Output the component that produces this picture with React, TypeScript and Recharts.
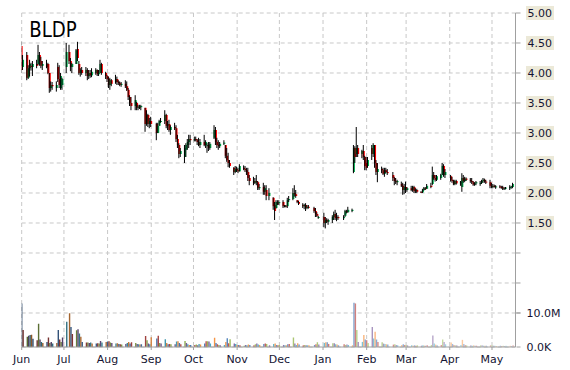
import { ComposedChart, Bar, Cell, XAxis, YAxis, CartesianGrid } from 'recharts';

const monthLabels = ['Jun', 'Jul', 'Aug', 'Sep', 'Oct', 'Nov', 'Dec', 'Jan', 'Feb', 'Mar', 'Apr', 'May'];
const holidays = ['2017-07-04', '2017-09-04', '2017-11-23', '2017-12-25', '2018-01-01', '2018-01-15', '2018-02-19', '2018-03-30'];

// daily [open, high, low, close] per month
const jun = [
  [4.45, 4.52, 4.0, 4.05], [4.1, 4.3, 4.05, 4.22],
  [4.3, 4.35, 3.88, 3.92], [3.92, 4.13, 3.9, 4.08], [4.08, 4.22, 3.94, 4.15], [4.12, 4.17, 4.04, 4.1], [4.1, 4.2, 3.95, 4.15],
  [4.15, 4.22, 4.08, 4.12], [4.15, 4.47, 4.13, 4.3], [4.3, 4.35, 4.12, 4.2], [4.2, 4.27, 4.08, 4.12], [4.12, 4.2, 4.05, 4.15],
  [4.15, 4.22, 4.08, 4.1], [4.15, 4.17, 3.98, 4.0], [4.0, 4.0, 3.67, 3.75], [3.75, 3.86, 3.69, 3.8], [3.8, 3.85, 3.72, 3.78],
  [3.75, 3.86, 3.69, 3.8], [4.1, 4.17, 3.85, 3.9], [3.9, 4.13, 3.75, 3.8], [3.75, 4.0, 3.72, 3.95], [3.8, 3.92, 3.72, 3.9],
];
const jul = [
  [4.1, 4.5, 4.0, 4.35],
  [4.35, 4.47, 4.15, 4.2], [4.2, 4.25, 4.03, 4.1], [4.1, 4.17, 4.0, 4.15],
  [4.15, 4.4, 4.15, 4.38], [4.4, 4.52, 4.2, 4.25], [4.15, 4.2, 3.97, 4.0], [4.0, 4.08, 3.94, 4.05], [4.05, 4.1, 3.97, 4.0],
  [4.0, 4.1, 3.95, 4.05], [4.05, 4.08, 3.88, 3.95], [3.95, 4.05, 3.9, 4.0], [4.0, 4.05, 3.92, 3.96], [3.96, 4.08, 3.93, 4.02],
  [4.0, 4.08, 3.97, 4.05], [4.05, 4.06, 3.95, 3.98], [3.98, 4.05, 3.95, 4.0], [4.0, 4.22, 4.0, 4.15], [4.15, 4.17, 3.97, 4.0],
  [4.0, 4.02, 3.9, 3.95],
];
const aug = [
  [3.95, 3.97, 3.85, 3.9], [3.9, 3.94, 3.75, 3.8], [3.8, 3.92, 3.72, 3.88], [3.88, 3.9, 3.78, 3.82],
  [3.85, 3.97, 3.82, 3.9], [3.9, 3.94, 3.8, 3.85], [3.85, 3.88, 3.8, 3.83], [3.83, 3.86, 3.78, 3.8], [3.8, 3.85, 3.77, 3.82],
  [3.82, 3.88, 3.75, 3.78], [3.78, 3.86, 3.7, 3.72], [3.72, 3.75, 3.55, 3.6], [3.6, 3.63, 3.45, 3.5], [3.5, 3.6, 3.38, 3.45],
  [3.45, 3.63, 3.38, 3.55], [3.5, 3.52, 3.38, 3.42], [3.42, 3.47, 3.38, 3.44], [3.44, 3.47, 3.4, 3.43], [3.43, 3.47, 3.38, 3.45],
  [3.42, 3.42, 3.02, 3.15], [3.15, 3.38, 3.12, 3.3], [3.3, 3.32, 3.1, 3.15], [3.15, 3.25, 3.08, 3.2],
];
const sep = [
  [3.2, 3.27, 3.1, 3.15],
  [3.15, 3.17, 2.88, 3.0], [3.0, 3.17, 3.0, 3.12], [3.12, 3.22, 3.12, 3.2], [3.2, 3.25, 3.17, 3.2],
  [3.2, 3.38, 3.15, 3.3], [3.3, 3.32, 3.08, 3.12], [3.12, 3.2, 3.05, 3.15], [3.15, 3.22, 3.02, 3.05], [3.05, 3.13, 2.97, 3.1],
  [3.1, 3.17, 3.05, 3.08], [3.08, 3.13, 2.85, 2.9], [2.9, 2.97, 2.75, 2.8], [2.8, 2.83, 2.58, 2.65], [2.65, 2.75, 2.6, 2.7],
  [2.6, 2.8, 2.5, 2.75], [2.72, 2.83, 2.6, 2.8], [2.8, 2.9, 2.72, 2.85], [2.85, 2.97, 2.75, 2.9], [2.9, 2.97, 2.8, 2.88],
];
const oct = [
  [2.88, 2.94, 2.86, 2.9], [2.9, 2.94, 2.86, 2.88], [2.88, 2.9, 2.8, 2.85], [2.85, 2.92, 2.78, 2.8], [2.8, 2.9, 2.75, 2.85],
  [2.85, 2.97, 2.78, 2.8], [2.8, 2.88, 2.75, 2.85], [2.78, 2.83, 2.67, 2.8], [2.8, 2.85, 2.7, 2.75], [2.75, 2.85, 2.72, 2.82],
  [2.92, 3.13, 2.9, 3.05], [3.05, 3.1, 2.8, 2.85], [2.85, 2.92, 2.75, 2.8], [2.8, 2.88, 2.72, 2.78], [2.78, 2.85, 2.75, 2.82],
  [2.82, 2.88, 2.8, 2.84], [2.8, 2.8, 2.58, 2.62], [2.62, 2.75, 2.52, 2.55], [2.55, 2.67, 2.43, 2.5], [2.5, 2.55, 2.42, 2.45],
  [2.42, 2.43, 2.3, 2.35], [2.35, 2.45, 2.33, 2.4],
];
const nov = [
  [2.4, 2.44, 2.35, 2.38], [2.38, 2.42, 2.33, 2.36], [2.36, 2.48, 2.36, 2.45],
  [2.42, 2.46, 2.38, 2.4], [2.4, 2.45, 2.35, 2.38], [2.38, 2.42, 2.3, 2.35], [2.35, 2.42, 2.2, 2.25], [2.25, 2.3, 2.13, 2.2],
  [2.2, 2.27, 2.13, 2.17], [2.17, 2.25, 2.15, 2.2], [2.2, 2.3, 2.13, 2.18], [2.18, 2.2, 2.05, 2.08], [2.08, 2.15, 2.05, 2.1],
  [2.1, 2.17, 1.97, 2.02], [2.02, 2.13, 1.97, 2.08], [2.05, 2.13, 1.88, 1.95], [1.95, 2.08, 1.88, 2.0],
  [1.92, 1.93, 1.72, 1.78], [1.8, 1.85, 1.55, 1.7], [1.75, 1.88, 1.74, 1.85], [1.84, 1.88, 1.8, 1.83],
];
const dec = [
  [1.83, 1.88, 1.8, 1.85],
  [1.85, 1.88, 1.75, 1.78], [1.78, 1.8, 1.76, 1.79], [1.79, 1.8, 1.76, 1.78], [1.78, 1.92, 1.75, 1.88], [1.88, 1.95, 1.85, 1.9],
  [1.9, 2.08, 1.88, 2.0], [2.0, 2.13, 1.94, 1.98], [1.98, 2.05, 1.92, 1.95], [1.88, 1.88, 1.83, 1.85], [1.85, 1.87, 1.8, 1.82],
  [1.8, 1.83, 1.75, 1.78], [1.78, 1.82, 1.73, 1.8], [1.8, 1.83, 1.7, 1.75], [1.75, 1.8, 1.73, 1.77], [1.77, 1.8, 1.74, 1.76],
  [1.75, 1.77, 1.67, 1.7], [1.7, 1.75, 1.6, 1.65], [1.65, 1.68, 1.6, 1.62], [1.6, 1.62, 1.57, 1.6],
];
const jan = [
  [1.6, 1.67, 1.43, 1.5], [1.5, 1.6, 1.41, 1.55], [1.55, 1.58, 1.5, 1.52], [1.52, 1.57, 1.47, 1.55],
  [1.55, 1.63, 1.5, 1.6], [1.6, 1.69, 1.55, 1.65], [1.65, 1.72, 1.55, 1.58], [1.58, 1.67, 1.53, 1.6], [1.6, 1.63, 1.55, 1.58],
  [1.58, 1.63, 1.55, 1.6], [1.62, 1.72, 1.6, 1.7], [1.7, 1.72, 1.66, 1.68], [1.68, 1.77, 1.67, 1.72],
  [1.7, 1.74, 1.68, 1.72], [2.35, 2.8, 2.33, 2.75], [2.75, 2.78, 2.5, 2.6], [2.65, 3.1, 2.6, 2.75], [2.75, 2.8, 2.6, 2.65],
  [2.65, 2.72, 2.58, 2.7], [2.7, 2.8, 2.55, 2.6], [2.6, 2.62, 2.38, 2.45],
];
const feb = [
  [2.5, 2.6, 2.38, 2.42], [2.45, 2.6, 2.42, 2.55],
  [2.75, 2.8, 2.55, 2.65], [2.65, 2.83, 2.6, 2.8], [2.8, 2.8, 2.42, 2.5], [2.5, 2.55, 2.3, 2.35], [2.35, 2.5, 2.18, 2.4],
  [2.4, 2.44, 2.33, 2.38], [2.38, 2.42, 2.3, 2.32], [2.32, 2.42, 2.27, 2.38], [2.38, 2.42, 2.33, 2.35], [2.35, 2.4, 2.3, 2.33],
  [2.3, 2.35, 2.2, 2.25], [2.25, 2.27, 2.13, 2.2], [2.2, 2.25, 2.15, 2.18], [2.18, 2.22, 2.13, 2.2],
  [2.15, 2.19, 2.1, 2.12], [2.12, 2.17, 1.97, 2.05], [2.05, 2.15, 1.98, 2.1],
];
const mar = [
  [2.1, 2.19, 2.0, 2.05], [2.05, 2.1, 2.02, 2.08],
  [2.08, 2.12, 2.03, 2.05], [2.05, 2.12, 2.02, 2.1], [2.1, 2.12, 2.0, 2.03], [2.03, 2.08, 2.0, 2.05], [2.05, 2.07, 2.0, 2.02],
  [2.02, 2.03, 2.0, 2.01], [2.01, 2.07, 2.0, 2.05], [2.05, 2.1, 2.04, 2.08], [2.08, 2.1, 2.05, 2.07], [2.07, 2.15, 2.07, 2.12],
  [2.12, 2.17, 2.08, 2.1], [2.15, 2.44, 2.13, 2.3], [2.3, 2.35, 2.22, 2.25], [2.25, 2.3, 2.19, 2.22], [2.22, 2.3, 2.2, 2.28],
  [2.25, 2.32, 2.22, 2.3], [2.3, 2.5, 2.3, 2.45], [2.45, 2.48, 2.27, 2.3], [2.3, 2.4, 2.25, 2.35],
];
const apr = [
  [2.28, 2.3, 2.19, 2.22], [2.22, 2.27, 2.17, 2.2], [2.2, 2.22, 2.13, 2.15], [2.15, 2.22, 2.13, 2.2], [2.2, 2.22, 2.14, 2.16],
  [2.16, 2.2, 2.12, 2.18], [2.1, 2.33, 2.02, 2.25], [2.25, 2.3, 2.17, 2.2], [2.2, 2.27, 2.18, 2.24], [2.24, 2.26, 2.2, 2.22],
  [2.22, 2.25, 2.17, 2.2], [2.2, 2.25, 2.15, 2.18], [2.18, 2.2, 2.12, 2.14], [2.14, 2.18, 2.12, 2.16], [2.16, 2.2, 2.13, 2.18],
  [2.15, 2.2, 2.12, 2.17], [2.17, 2.22, 2.15, 2.2], [2.2, 2.25, 2.17, 2.22], [2.22, 2.24, 2.17, 2.19], [2.19, 2.22, 2.15, 2.18],
  [2.18, 2.22, 2.08, 2.12],
];
const may = [
  [2.12, 2.17, 2.08, 2.1], [2.1, 2.15, 2.08, 2.12], [2.12, 2.14, 2.09, 2.1], [2.1, 2.13, 2.07, 2.11],
  [2.11, 2.13, 2.08, 2.1], [2.1, 2.12, 2.07, 2.09], [2.09, 2.12, 2.05, 2.07], [2.07, 2.1, 2.05, 2.08], [2.08, 2.1, 2.06, 2.09],
  [2.08, 2.13, 2.05, 2.1], [2.1, 2.12, 2.07, 2.11], [2.1, 2.17, 2.08, 2.15],
];

// daily volume, millions
const vJun = [12.8, 5.0, 3.0, 3.3, 3.5, 3.6, 2.4, 2.0, 6.8, 2.2, 1.5, 1.2, 1.5, 2.8, 1.2, 1.5, 1.0, 1.2, 5.0, 2.2, 1.5, 2.8];
const vJul = [7.4, 9.9, 5.9, 3.8, 4.9, 5.2, 4.0, 3.0, 1.5, 1.3, 1.3, 1.2, 1.3, 1.0, 1.0, 1.1, 1.0, 1.8, 1.3, 1.5];
const vAug = [1.6, 1.7, 1.3, 1.2, 1.0, 1.1, 0.9, 0.8, 0.7, 0.9, 1.2, 1.5, 1.0, 1.4, 1.2, 0.9, 0.8, 0.7, 0.8, 3.2, 2.0, 1.0, 0.8];
const vSep = [2.9, 2.5, 3.3, 1.2, 1.0, 2.3, 1.2, 0.8, 0.9, 0.8, 0.8, 1.6, 1.7, 1.2, 0.8, 1.8, 1.2, 0.8, 0.6, 0.6];
const vOct = [0.6, 0.7, 0.5, 0.9, 0.7, 1.0, 1.7, 1.7, 1.6, 1.0, 2.7, 1.2, 0.8, 0.6, 0.5, 0.6, 1.5, 2.6, 1.1, 2.3, 1.0, 0.9];
const vNov = [0.6, 0.6, 0.5, 0.4, 0.6, 0.5, 0.7, 0.6, 0.5, 0.8, 1.0, 0.7, 0.6, 0.9, 1.0, 0.9, 0.5, 0.9, 1.0, 0.6, 0.5];
const vDec = [0.6, 0.6, 0.5, 0.5, 0.8, 0.9, 2.8, 1.0, 0.6, 1.1, 0.7, 0.5, 0.6, 0.5, 0.5, 0.5, 0.6, 0.8, 1.4, 0.7];
const vJan = [1.2, 1.4, 1.4, 0.9, 1.1, 1.1, 0.8, 0.7, 0.5, 0.8, 0.6, 0.7, 0.6, 0.5, 13.0, 12.8, 5.0, 1.5, 1.5, 3.5, 2.2];
const vFeb = [2.0, 1.2, 5.9, 2.5, 4.5, 2.2, 1.5, 1.4, 1.0, 0.9, 0.8, 0.7, 0.7, 0.8, 0.6, 0.5, 0.6, 0.8, 0.6];
const vMar = [0.6, 0.5, 0.5, 0.4, 0.5, 0.4, 0.5, 0.4, 0.5, 0.4, 0.4, 0.5, 0.6, 3.4, 1.0, 0.7, 0.5, 0.6, 2.2, 1.5, 0.8];
const vApr = [1.3, 0.9, 0.6, 0.5, 0.5, 0.6, 2.1, 0.9, 0.6, 0.5, 0.5, 0.4, 0.5, 0.4, 0.4, 0.5, 0.5, 0.4, 0.4, 0.4, 0.5];
const vMay = [0.6, 0.4, 0.4, 0.3, 0.4, 0.3, 0.4, 0.3, 0.4, 0.4, 0.3, 0.5];

const priceTicks = [0, 0.5, 1, 1.5, 2, 2.5, 3, 3.5, 4, 4.5, 5];
const volTicks = [0, 10];

const priceMonths = [jun, jul, aug, sep, oct, nov, dec, jan, feb, mar, apr, may];
const volMonths = [vJun, vJul, vAug, vSep, vOct, vNov, vDec, vJan, vFeb, vMar, vApr, vMay];

const UP = '#00b050';
const DOWN = '#ff0000';
const GRID = '#c8c8c8';
const AXIS = '#a0a0a0';
const TEXT = '#141432';
const FONT = '"DejaVu Sans", Verdana, sans-serif';
const palette = ['#4f81bd', '#c0504d', '#9bbb59', '#8064a2', '#4bacc6', '#f79646'];

const DAY = 86400000;
const START = Date.UTC(2017, 5, 1);

function buildRows() {
  const rows: any[] = [];
  const monthStarts: number[] = [];
  for (let m = 0; m < 12; m++) {
    const yr = 2017 + Math.floor((5 + m) / 12);
    const mo = (5 + m) % 12;
    monthStarts.push((Date.UTC(yr, mo, 1) - START) / DAY);
    let k = 0;
    for (let day = 1; day <= 31 && k < priceMonths[m].length; day++) {
      const t = Date.UTC(yr, mo, day);
      const dt = new Date(t);
      if (dt.getUTCMonth() !== mo) break;
      const wd = dt.getUTCDay();
      if (wd === 0 || wd === 6) continue;
      if (holidays.includes(dt.toISOString().slice(0, 10))) continue;
      const [o, h, l, c] = priceMonths[m][k];
      rows.push({ d: (t - START) / DAY, o, h, l, c, range: [l, h], vol: volMonths[m][k] });
      k++;
    }
  }
  return { rows, monthStarts };
}

const { rows, monthStarts } = buildRows();

function mix(hex: string, target: number, amt: number) {
  const n = parseInt(hex.slice(1), 16);
  const ch = [(n >> 16) & 255, (n >> 8) & 255, n & 255].map((v) => Math.round(v + (target - v) * amt));
  return `rgb(${ch[0]},${ch[1]},${ch[2]})`;
}

function volColor(i: number, n: number) {
  const base = palette[i % palette.length];
  const t = i / (n - 1);
  if (t < 0.4) return mix(base, 0, ((0.4 - t) / 0.4) * 0.45);
  return mix(base, 255, ((t - 0.4) / 0.6) * 0.6);
}

const Candle = (props: any) => {
  const { x, y, width, height, payload } = props;
  const { o, h, l, c } = payload;
  const top = Math.min(y, y + height);
  const H = Math.abs(height);
  const span = h - l || 1;
  const yo = top + ((h - o) / span) * H;
  const yc = top + ((h - c) / span) * H;
  const cx = x + width / 2;
  return (
    <g>
      <rect x={cx - 1} y={Math.min(yo, yc)} width={2} height={Math.max(Math.abs(yc - yo), 1)} fill={c >= o ? UP : DOWN} />
      <rect x={cx - 1} y={top} width={1} height={Math.max(H, 1)} fill="#000" />
    </g>
  );
};

const PriceTick = (props: any) => {
  const { x, y, payload } = props;
  const v = payload.value;
  if (v < 1.5) return <g />;
  return (
    <g>
      <rect x={x - 1.5} y={y - 7} width={28} height={14} fill="#ece9d8" />
      <text x={x} y={y} dy={4} fontSize={11} fontFamily={FONT} fill={TEXT}>{v.toFixed(2)}</text>
    </g>
  );
};

const VolTick = (props: any) => {
  const { x, y, payload } = props;
  const v = payload.value;
  return (
    <text x={x} y={y} dy={4} fontSize={11} fontFamily={FONT} fill={TEXT}>
      {v === 0 ? '0.0K' : v.toFixed(1) + 'M'}
    </text>
  );
};

export default function App() {
  return (
    <div style={{ position: 'absolute', left: 0, top: 0, width: 570, height: 370, background: '#fff' }}>
      <ComposedChart width={570} height={370} data={rows} margin={{ top: 13, right: 52.5, bottom: 0, left: 21.7 }}>
        <CartesianGrid xAxisId="px" yAxisId="p" stroke={GRID} strokeDasharray="4 3" />
        <XAxis
          xAxisId="px"
          dataKey="d"
          type="number"
          domain={[0, 350.7]}
          allowDataOverflow
          ticks={monthStarts}
          tickFormatter={(v: number) => monthLabels[monthStarts.indexOf(v)]}
          height={23}
          tickSize={3}
          tickMargin={5}
          stroke={AXIS}
          tick={{ fontSize: 11, fontFamily: FONT, fill: TEXT }}
          interval={0}
        />
        <XAxis xAxisId="vx" dataKey="d" type="number" domain={[0, 350.7]} allowDataOverflow hide />
        <YAxis
          yAxisId="p"
          orientation="right"
          width={1}
          domain={[-0.5667, 5]}
          allowDataOverflow
          ticks={priceTicks}
          interval={0}
          tickSize={5}
          tickMargin={7}
          stroke={AXIS}
          tick={<PriceTick />}
        />
        <YAxis
          yAxisId="v"
          orientation="right"
          width={1}
          domain={[0, 98.2]}
          allowDataOverflow
          ticks={volTicks}
          interval={0}
          tickSize={4}
          tickMargin={6}
          axisLine={false}
          stroke={AXIS}
          tick={<VolTick />}
        />
        <Bar xAxisId="vx" yAxisId="v" dataKey="vol" barSize={1.4} isAnimationActive={false}>
          {rows.map((_, i) => (
            <Cell key={i} fill={volColor(i, rows.length)} />
          ))}
        </Bar>
        <Bar xAxisId="px" yAxisId="p" dataKey="range" barSize={2} shape={<Candle />} isAnimationActive={false} />
      </ComposedChart>
      <svg width={570} height={370} style={{ position: 'absolute', left: 0, top: 0, pointerEvents: 'none' }}>
        <text x={29.3} y={36.7} fontSize={20.5} fontFamily={FONT} fill="#000" textLength={47.5} lengthAdjust="spacingAndGlyphs">
          BLDP
        </text>
      </svg>
    </div>
  );
}
